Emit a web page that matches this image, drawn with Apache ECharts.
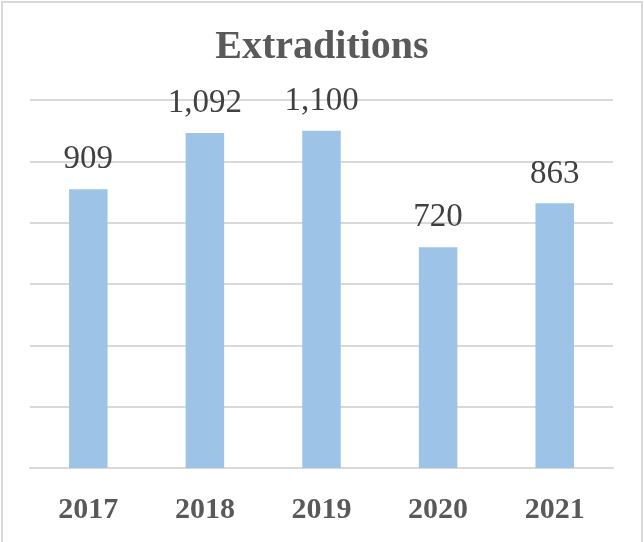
<!DOCTYPE html>
<html>
<head>
<meta charset="utf-8">
<script src="https://cdn.jsdelivr.net/npm/echarts@6/dist/echarts.min.js"></script>
<style>
html,body{margin:0;padding:0;background:#fff;}
#chart{width:644px;height:542px;}
</style>
</head>
<body>
<div id="chart"></div>
<script>
var categories = ['2017', '2018', '2019', '2020', '2021'];
var extraditions = [909, 1092, 1100, 720, 863];

var chart = echarts.init(document.getElementById('chart'));
chart.setOption({
  animation: false,
  backgroundColor: '#ffffff',
  graphic: [{
    type: 'rect',
    shape: { x: 2, y: 2, width: 640, height: 580 },
    style: { fill: 'none', stroke: '#d9d9d9', lineWidth: 2 },
    silent: true
  }],
  title: {
    text: 'Extraditions',
    left: 'center',
    top: 23,
    textStyle: {
      fontFamily: 'Liberation Serif',
      fontWeight: 'bold',
      fontSize: 40,
      color: '#595959'
    }
  },
  grid: { left: 30, right: 31, top: 100, bottom: 74 },
  xAxis: {
    type: 'category',
    data: categories,
    axisTick: { show: false },
    axisLine: { lineStyle: { color: '#d9d9d9', width: 2 } },
    axisLabel: {
      margin: 27,
      fontFamily: 'Liberation Serif',
      fontWeight: 'bold',
      fontSize: 30,
      color: '#595959'
    }
  },
  yAxis: {
    type: 'value',
    min: 0,
    max: 1200,
    interval: 200,
    axisLabel: { show: false },
    axisLine: { show: false },
    axisTick: { show: false },
    splitLine: { lineStyle: { color: '#d9d9d9', width: 2 } }
  },
  series: [{
    type: 'bar',
    data: extraditions,
    barWidth: '33%',
    itemStyle: { color: '#9dc3e6' },
    label: {
      show: true,
      position: 'top',
      distance: 13,
      formatter: function (p) { return p.value.toLocaleString('en-US'); },
      fontFamily: 'Liberation Serif',
      fontSize: 33,
      color: '#404040'
    }
  }]
});
</script>
</body>
</html>
